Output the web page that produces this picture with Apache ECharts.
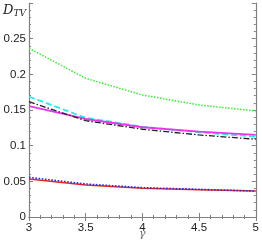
<!DOCTYPE html>
<html><head><meta charset="utf-8">
<script src="https://cdn.jsdelivr.net/npm/echarts@6/dist/echarts.min.js"></script>
<style>html,body{margin:0;padding:0;background:#fff}#c{width:262px;height:243px}</style>
</head><body><div id="c"></div>
<script>
const gammaValues = [3, 3.5, 4, 4.5, 5];
const xTickLabels = ['3', '3.5', '4', '4.5', '5'];
const yTickLabels = ['0', '0.05', '0.1', '0.15', '0.2', '0.25', ''];
const greenDotted = [0.2365, 0.1944, 0.171, 0.157, 0.1486];
const cyanDashed = [0.1687, 0.139, 0.1266, 0.1187, 0.1126];
const magentaSolid = [0.1556, 0.1374, 0.1258, 0.1196, 0.115];
const blackDashDot = [0.1616, 0.135, 0.123, 0.115, 0.109];
const blueDotted = [0.0556, 0.0463, 0.0411, 0.0388, 0.0364];
const redSolid = [0.0533, 0.0449, 0.0402, 0.0383, 0.0364];

const chart = echarts.init(document.getElementById('c'), null, {renderer: 'canvas'});
const axisGray = '#808080';
function pairs(v){ return gammaValues.map((g,i)=>[g, v[i]]); }
function line(data, color, type, width, z){
  return {type:'line', data:pairs(data), showSymbol:false, symbol:'none', smooth:false,
    lineStyle:{color:color, width:width, type:type}, z:z, animation:false,
    xAxisIndex:0, yAxisIndex:0};
}
const xLabelMap = {}; gammaValues.forEach((g,i)=>xLabelMap[g.toFixed(1)] = xTickLabels[i]);
const yTicks = [0,0.05,0.1,0.15,0.2,0.25,0.3];
const yLabelMap = {}; yTicks.forEach((t,i)=>yLabelMap[t.toFixed(2)] = yTickLabels[i]);
const common = {
  axisLine:{show:true, lineStyle:{color:axisGray, width:1.2}},
  axisTick:{show:true, inside:true, length:4, lineStyle:{color:axisGray}},
  minorTick:{show:true, splitNumber:5, length:2, lineStyle:{color:axisGray}},
  splitLine:{show:false}
};
chart.setOption({
  animation:false,
  backgroundColor:'#fff',
  grid:{left:29, right:5, top:3, bottom:26, containLabel:false},
  xAxis:[
    Object.assign({type:'value', min:3, max:5, interval:0.5, position:'bottom',
      axisLabel:{color:'#222', fontSize:11.5, fontFamily:'Liberation Sans, Arial, sans-serif', margin:5,
        formatter:v=>xLabelMap[v.toFixed(1)] ?? ''}}, common),
    Object.assign({type:'value', min:3, max:5, interval:0.5, position:'top',
      axisLabel:{show:false}}, common)
  ],
  yAxis:[
    Object.assign({type:'value', min:0, max:0.3, interval:0.05, position:'left',
      axisLabel:{color:'#222', fontSize:11.5, fontFamily:'Liberation Sans, Arial, sans-serif', margin:3,
        formatter:v=>yLabelMap[v.toFixed(2)] ?? ''}}, common),
    Object.assign({type:'value', min:0, max:0.3, interval:0.05, position:'right',
      axisLabel:{show:false}}, common)
  ],
  graphic:[
    {type:'text', left:3, top:4, style:{rich:{
        d:{fontFamily:'DejaVu Serif, Liberation Serif, serif', fontStyle:'italic', fontSize:13, fill:'#222'},
        s:{fontFamily:'DejaVu Serif, Liberation Serif, serif', fontStyle:'italic', fontSize:9, fill:'#222', verticalAlign:'bottom', padding:[6,0,0,0]}
      }, text:'{d|D}{s|TV}'}},
    {type:'text', left:139, top:229, style:{text:'γ', fontFamily:'DejaVu Serif, Liberation Serif, serif', fontStyle:'italic', fontSize:11, fill:'#666'}}
  ],
  series:[
    line(greenDotted, '#33ee33', 'dotted', 1.5, 2),
    line(cyanDashed, '#22eeee', [6,3], 1.8, 3),
    line(magentaSolid, '#ee33ee', 'solid', 1.8, 4),
    line(blackDashDot, '#222222', [6,2,1.5,2], 1.3, 5),
    line(redSolid, '#ee2222', 'solid', 1.6, 6),
    line(blueDotted, '#2233dd', 'dotted', 1.6, 7)
  ]
});
</script></body></html>
